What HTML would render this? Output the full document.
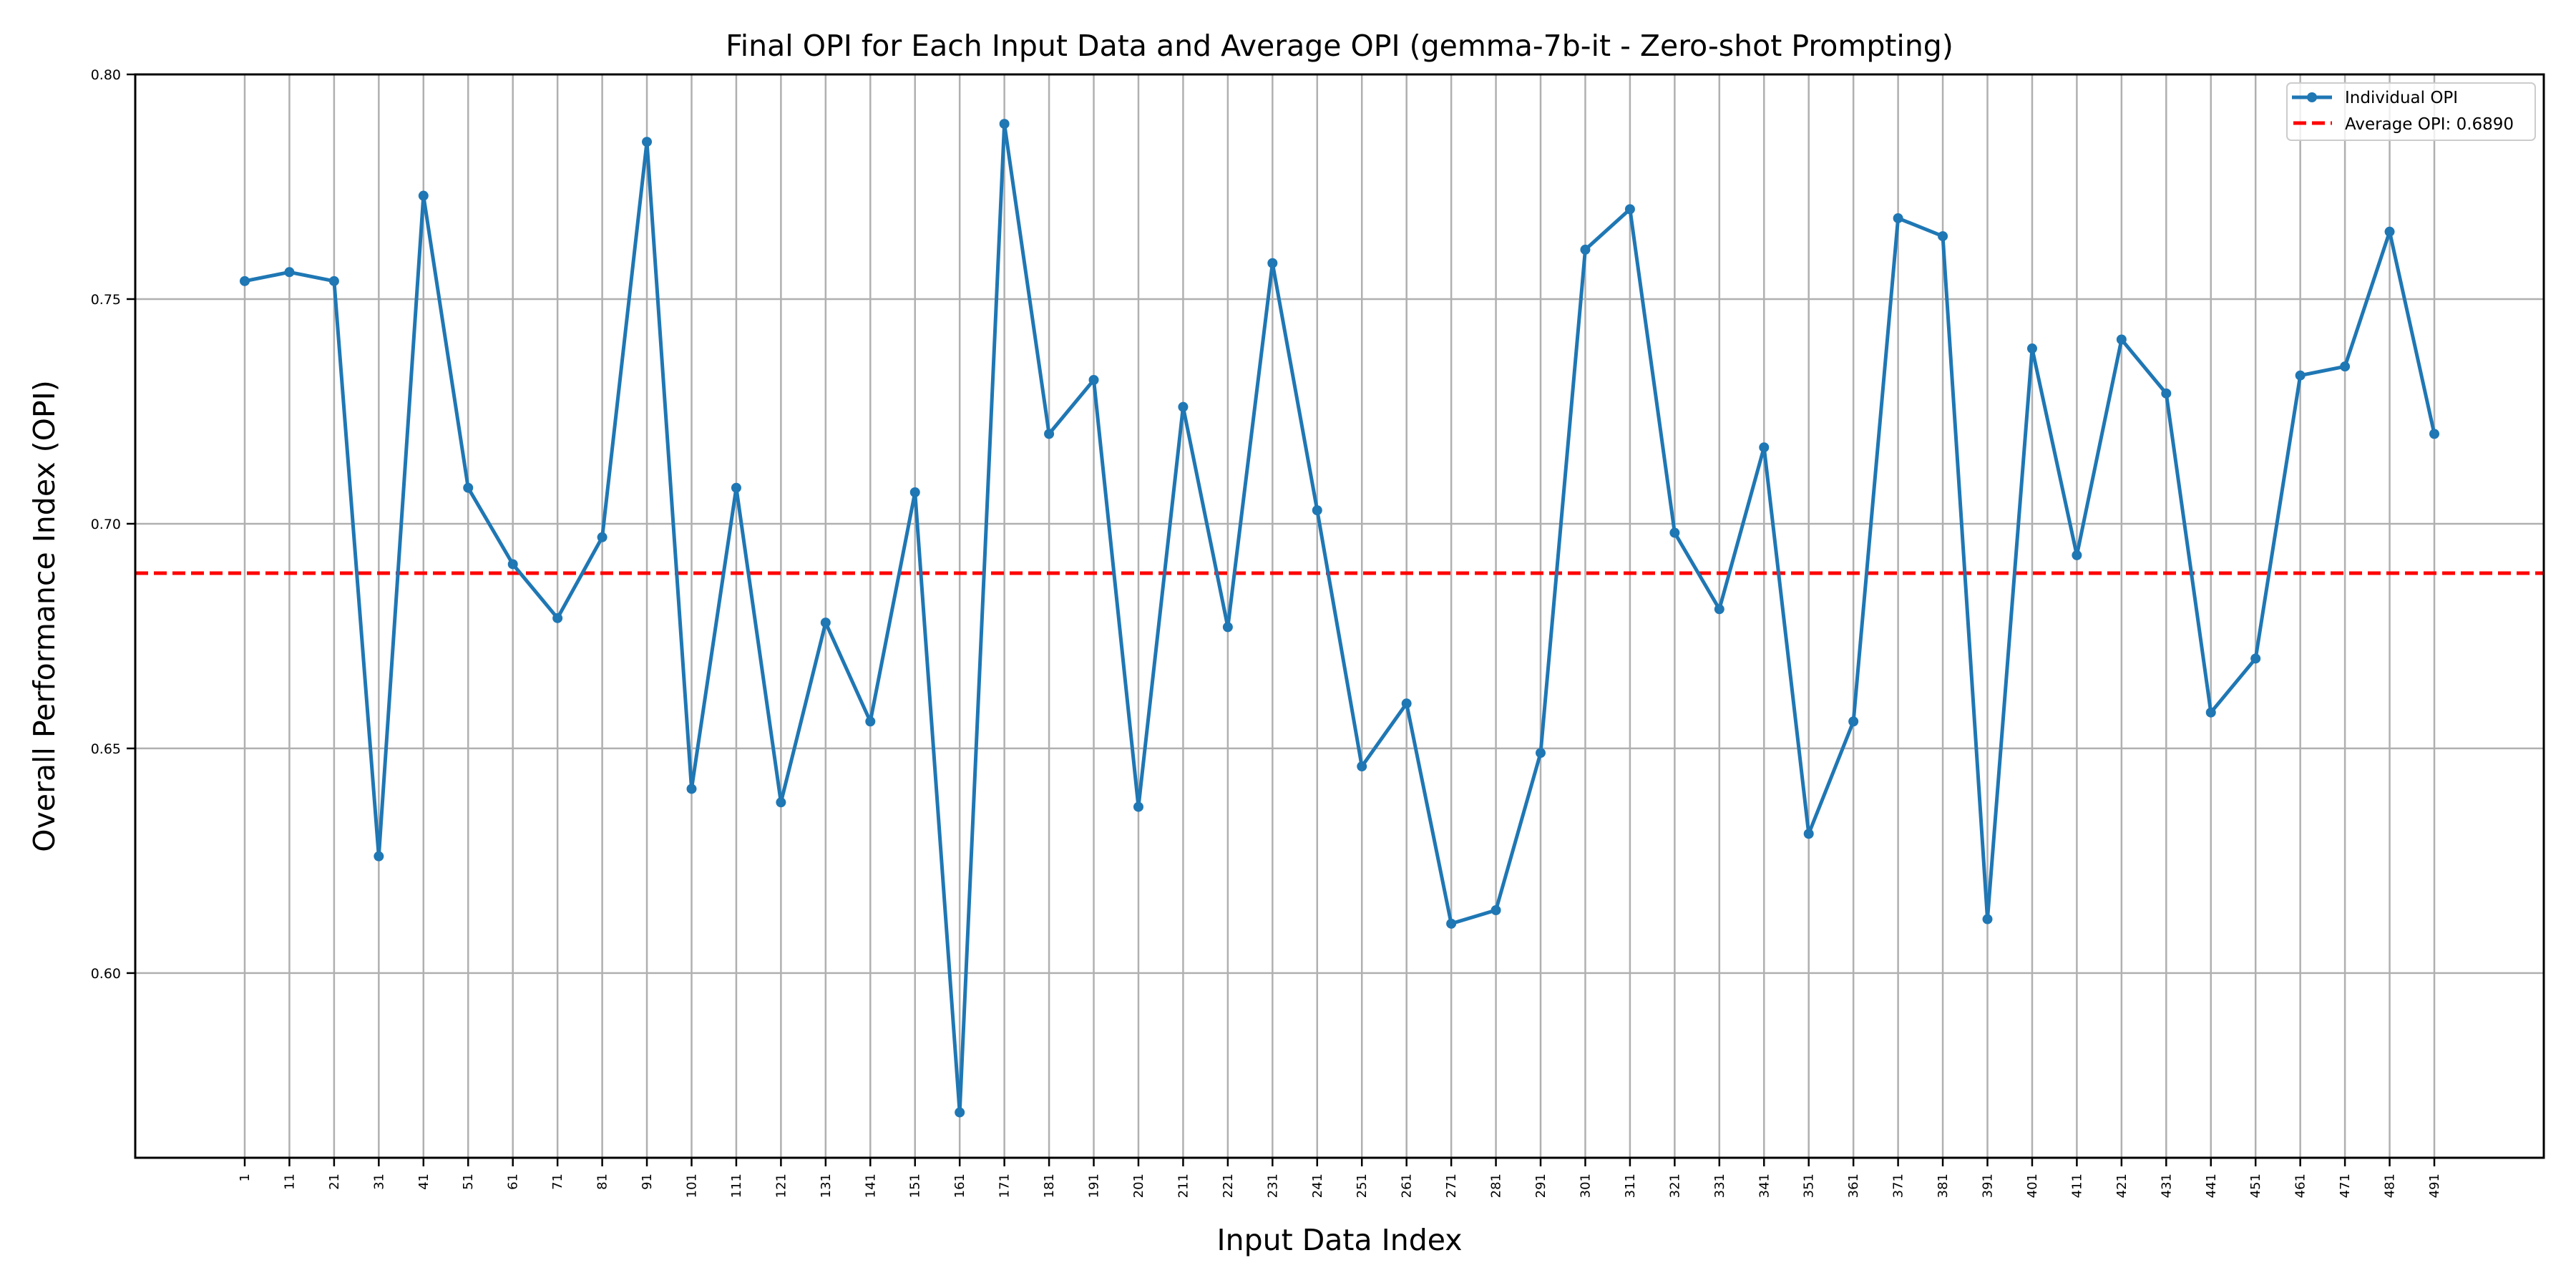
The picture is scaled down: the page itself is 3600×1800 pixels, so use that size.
<!DOCTYPE html>
<html><head><meta charset="utf-8"><style>
html,body{margin:0;padding:0;background:#fff;}
svg{display:block;font-family:"DejaVu Sans","Liberation Sans",sans-serif;}
</style></head><body>
<svg id="chart" width="3600" height="1800" viewBox="0 0 3600 1800">
<rect width="3600" height="1800" fill="#fff"/>
<g id="grid"></g>
<g id="avg"></g>
<g id="series"></g>
<rect x="189" y="104" width="3366" height="1514" fill="none" stroke="#000" stroke-width="3"/>
<g id="ticks"></g>
<text x="1872" y="78" text-anchor="middle" font-size="41">Final OPI for Each Input Data and Average OPI (gemma-7b-it - Zero-shot Prompting)</text>
<text x="1872" y="1747" text-anchor="middle" font-size="41">Input Data Index</text>
<text transform="translate(76,861) rotate(-90)" text-anchor="middle" font-size="41">Overall Performance Index (OPI)</text>
<g>
<rect x="3196" y="116" width="347" height="80" rx="6" fill="#fff" fill-opacity="0.8" stroke="#ccc" stroke-width="2"/>
<g>
<line x1="3203" y1="136" x2="3259" y2="136" stroke="#1f77b4" stroke-width="5"/>
<circle cx="3231" cy="136" r="7" fill="#1f77b4"/>
<text x="3277" y="144" font-size="23">Individual OPI</text>
</g>
<g>
<line x1="3205" y1="172" x2="3259" y2="172" stroke="#ff0000" stroke-width="5" stroke-dasharray="18,8"/>
<text x="3277" y="181" font-size="23">Average OPI: 0.6890</text>
</g>
</g>
</svg>
<script>
const xIndices = [1,11,21,31,41,51,61,71,81,91,101,111,121,131,141,151,161,171,181,191,201,211,221,231,241,251,261,271,281,291,301,311,321,331,341,351,361,371,381,391,401,411,421,431,441,451,461,471,481,491];
const opiValues = [0.754,0.756,0.754,0.626,0.773,0.708,0.691,0.679,0.697,0.785,0.641,0.708,0.638,0.678,0.656,0.707,0.569,0.789,0.720,0.732,0.637,0.726,0.677,0.758,0.703,0.646,0.660,0.611,0.614,0.649,0.761,0.770,0.698,0.681,0.717,0.631,0.656,0.768,0.764,0.612,0.739,0.693,0.741,0.729,0.658,0.670,0.733,0.735,0.765,0.720];
const averageOpi = [0.689];
const yTicks = [0.60,0.65,0.70,0.75,0.80];
const yTickLabels = ["0.60","0.65","0.70","0.75","0.80"];

const L=189,R=3555,T=104,B=1618;
const xMin=-23.5,xMax=515.5,yMin=0.5589,yMax=0.80;
const sx=v=>L+(v-xMin)/(xMax-xMin)*(R-L);
const sy=v=>B-(v-yMin)/(yMax-yMin)*(B-T);
const NS="http://www.w3.org/2000/svg";
function mk(tag,attrs,parent){const e=document.createElementNS(NS,tag);for(const k in attrs)e.setAttribute(k,attrs[k]);parent.appendChild(e);return e;}
const grid=document.getElementById('grid'),ticks=document.getElementById('ticks'),series=document.getElementById('series'),avg=document.getElementById('avg');

xIndices.forEach(x=>{
  const px=sx(x);
  const g=mk('line',{x1:px,x2:px,y1:T,y2:B,stroke:'#b0b0b0','stroke-width':2.5},grid);
  
  
  const t=mk('line',{x1:px,x2:px,y1:B,y2:B+12,stroke:'#000','stroke-width':2.5},ticks);
  
  
  const lb=mk('text',{transform:`translate(${px+6},${B+22}) rotate(-90)`,'text-anchor':'end','font-size':18},ticks);
  lb.textContent=String(x);
  
  
});
yTicks.forEach((v,i)=>{
  const py=sy(v);
  const g=mk('line',{x1:L,x2:R,y1:py,y2:py,stroke:'#b0b0b0','stroke-width':2.5},grid);
  
  
  const t=mk('line',{x1:L-12,x2:L,y1:py,y2:py,stroke:'#000','stroke-width':2.5},ticks);
  
  
  const lb=mk('text',{x:L-20,y:py+7,'text-anchor':'end','font-size':19},ticks);
  lb.textContent=yTickLabels[i];
  
  
});
const al=mk('line',{x1:L,x2:R,y1:sy(averageOpi[0]),y2:sy(averageOpi[0]),stroke:'#ff0000','stroke-width':5,'stroke-dasharray':'18,8'},avg);


const pts=xIndices.map((x,i)=>sx(x)+','+sy(opiValues[i])).join(' ');
const pl=mk('polyline',{points:pts,fill:'none',stroke:'#1f77b4','stroke-width':5,'stroke-linejoin':'round'},series);


xIndices.forEach((x,i)=>{
  const c=mk('circle',{cx:sx(x),cy:sy(opiValues[i]),r:7,fill:'#1f77b4'},series);
  
  
});
</script>
</body></html>
